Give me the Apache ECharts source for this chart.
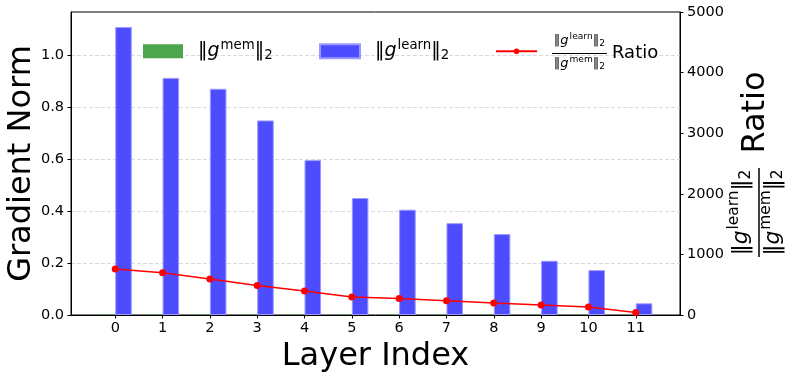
<!DOCTYPE html>
<html><head><meta charset="utf-8">
<script src="https://cdn.jsdelivr.net/npm/echarts@6/dist/echarts.min.js"></script>
<style>html,body{margin:0;padding:0;background:#fff}#c{width:793px;height:377px}</style>
</head><body><div id="c"></div>
<script>
// ---- data ----
const layers = [0,1,2,3,4,5,6,7,8,9,10,11];
const learnNorm = [1.110,0.914,0.872,0.750,0.597,0.451,0.406,0.354,0.312,0.209,0.173,0.045];
const memNorm = [0.00146,0.00131,0.00147,0.00154,0.00151,0.00152,0.00148,0.00150,0.00158,0.00127,0.00131,0.00105];
const ratio = [758,697,593,488,395,296,274,236,197,165,132,43];
const leftTicks = [0,0.2,0.4,0.6,0.8,1.0];
const rightTicks = [0,1000,2000,3000,4000,5000];
const xTitle = 'Layer Index';
const yTitle = 'Gradient Norm';

const F = 'DejaVu Sans';
function normRich(size, padLeft) {
  return {
    p: {fontFamily:F, fontSize:size, lineHeight:size*1.2, padding:[0,0,0,padLeft||0], color:'#000'},
    n: {fontFamily:F, fontSize:size, lineHeight:size*1.2, color:'#000'},
    g: {fontFamily:F, fontStyle:'italic', fontSize:size, lineHeight:size*1.2, color:'#000'},
    sup: {fontFamily:F, fontSize:size*0.7, lineHeight:size*0.7, padding:[0,0,size*0.6,1], color:'#000'},
    sub: {fontFamily:F, fontSize:size*0.7, lineHeight:size*0.7, padding:[size*0.45,0,0,0], color:'#000'},
    t: {fontFamily:F, fontSize:size, lineHeight:size*1.2, color:'#000'}
  };
}
function normText(word, first) {
  return '{' + (first || 'n') + '|‖}{g|g}{sup|' + word + '}{n|‖}{sub|2}';
}

const chart = echarts.init(document.getElementById('c'), null, {renderer:'canvas'});
const W = 609; // grid width px
const unitPx = W / (11.935 + 0.935);
const barW = 0.35 * unitPx;

const axisBlack = {show:true, onZero:false, lineStyle:{color:'#000', width:1}};
const tickStyle = {show:true, inside:false, length:3.5, lineStyle:{color:'#000', width:1}};

chart.setOption({
  animation:false,
  backgroundColor:'#fff',
  grid:{left:71, right:113, top:12, bottom:62, show:true, borderColor:'#000', borderWidth:1,
        containLabel:false, outerBoundsMode:'none'},
  xAxis:{
    type:'value', min:-0.935, max:11.935,
    axisLine:axisBlack,
    axisTick:Object.assign({customValues:layers}, tickStyle),
    axisLabel:{customValues:layers, margin:6, color:'#000', fontFamily:F, fontSize:14.5, formatter:v=>String(Math.round(v))},
    splitLine:{show:false},
    name:xTitle, nameLocation:'middle', nameGap:37,
    nameTextStyle:{fontFamily:F, fontSize:32, color:'#000', verticalAlign:'middle'}
  },
  yAxis:[{
    type:'value', min:0, max:1.168, interval:0.2,
    axisLine:axisBlack,
    axisTick:Object.assign({customValues:leftTicks}, tickStyle),
    axisLabel:{customValues:leftTicks, margin:7, color:'#000', fontFamily:F, fontSize:14.5, formatter:v=>v.toFixed(1)},
    splitLine:{show:true, lineStyle:{color:'#d0d0d0', width:0.8, type:[4,2]}},
    name:yTitle, nameLocation:'middle', nameGap:49, nameRotate:90, nameMoveOverlap:false,
    nameTextStyle:{fontFamily:F, fontSize:32, color:'#000', verticalAlign:'middle', align:'center'}
  },{
    type:'value', min:0, max:5000, interval:1000, position:'right',
    axisLine:axisBlack,
    axisTick:Object.assign({customValues:rightTicks}, tickStyle),
    axisLabel:{customValues:rightTicks, margin:7, color:'#000', fontFamily:F, fontSize:14.5, formatter:v=>String(v)},
    splitLine:{show:false}
  }],
  legend:[
    {data:['mem'], left:143, top:39, padding:0, itemWidth:40, itemHeight:14, icon:'rect', selectedMode:false,
     formatter:()=>normText('mem','p'), textStyle:{rich:normRich(19,10)}},
    {data:['learn'], left:319, top:39, padding:0, itemWidth:40, itemHeight:14, icon:'rect', selectedMode:false,
     formatter:()=>normText('learn','p'), textStyle:{rich:normRich(19,10)}},
    {data:['ratio'], left:495, top:47.8, padding:0, itemWidth:41, itemHeight:7, selectedMode:false,
     formatter:()=>'', textStyle:{fontSize:1}}
  ],
  graphic:[
    {type:'text', x:579.4, y:41, z:100, style:{text:normText('learn'), rich:normRich(13), align:'center', verticalAlign:'middle'}},
    {type:'line', z:100, shape:{x1:552, y1:53.5, x2:607, y2:53.5}, style:{stroke:'#000', lineWidth:1}},
    {type:'text', x:579.4, y:64, z:100, style:{text:normText('mem'), rich:normRich(13), align:'center', verticalAlign:'middle'}},
    {type:'text', x:612, y:53, z:100, style:{text:'Ratio', fontFamily:F, fontSize:18, fill:'#000', align:'left', verticalAlign:'middle'}},
    {type:'group', x:759, y:212.5, rotation:Math.PI/2, z:100, children:[
      {type:'text', x:0, y:-18, style:{text:normText('learn'), rich:normRich(22), align:'center', verticalAlign:'middle'}},
      {type:'line', shape:{x1:-44.5, y1:0, x2:44.5, y2:0}, style:{stroke:'#000', lineWidth:1.5}},
      {type:'text', x:0, y:14, style:{text:normText('mem'), rich:normRich(22), align:'center', verticalAlign:'middle'}},
      {type:'text', x:100, y:-3.5, style:{text:'Ratio', fontFamily:F, fontSize:32, fill:'#000', align:'center', verticalAlign:'middle'}}
    ]}
  ],
  series:[
    {name:'mem', type:'bar', xAxisIndex:0, yAxisIndex:0, barWidth:barW, barGap:'0%',
     itemStyle:{color:'#4da64d', borderWidth:0},
     data:layers.map((l,i)=>[l, memNorm[i]])},
    {name:'learn', type:'bar', xAxisIndex:0, yAxisIndex:0, barWidth:barW, barGap:'0%',
     itemStyle:{color:'#4d4dff', borderColor:'#9a9aff', borderWidth:1},
     data:layers.map((l,i)=>[l, learnNorm[i]])},
    {name:'ratio', type:'line', xAxisIndex:0, yAxisIndex:1, z:5,
     symbol:'circle', symbolSize:7, lineStyle:{color:'#ff0000', width:1.5},
     itemStyle:{color:'#ff0000'},
     data:layers.map((l,i)=>[l, ratio[i]])}
  ]
});
</script></body></html>
